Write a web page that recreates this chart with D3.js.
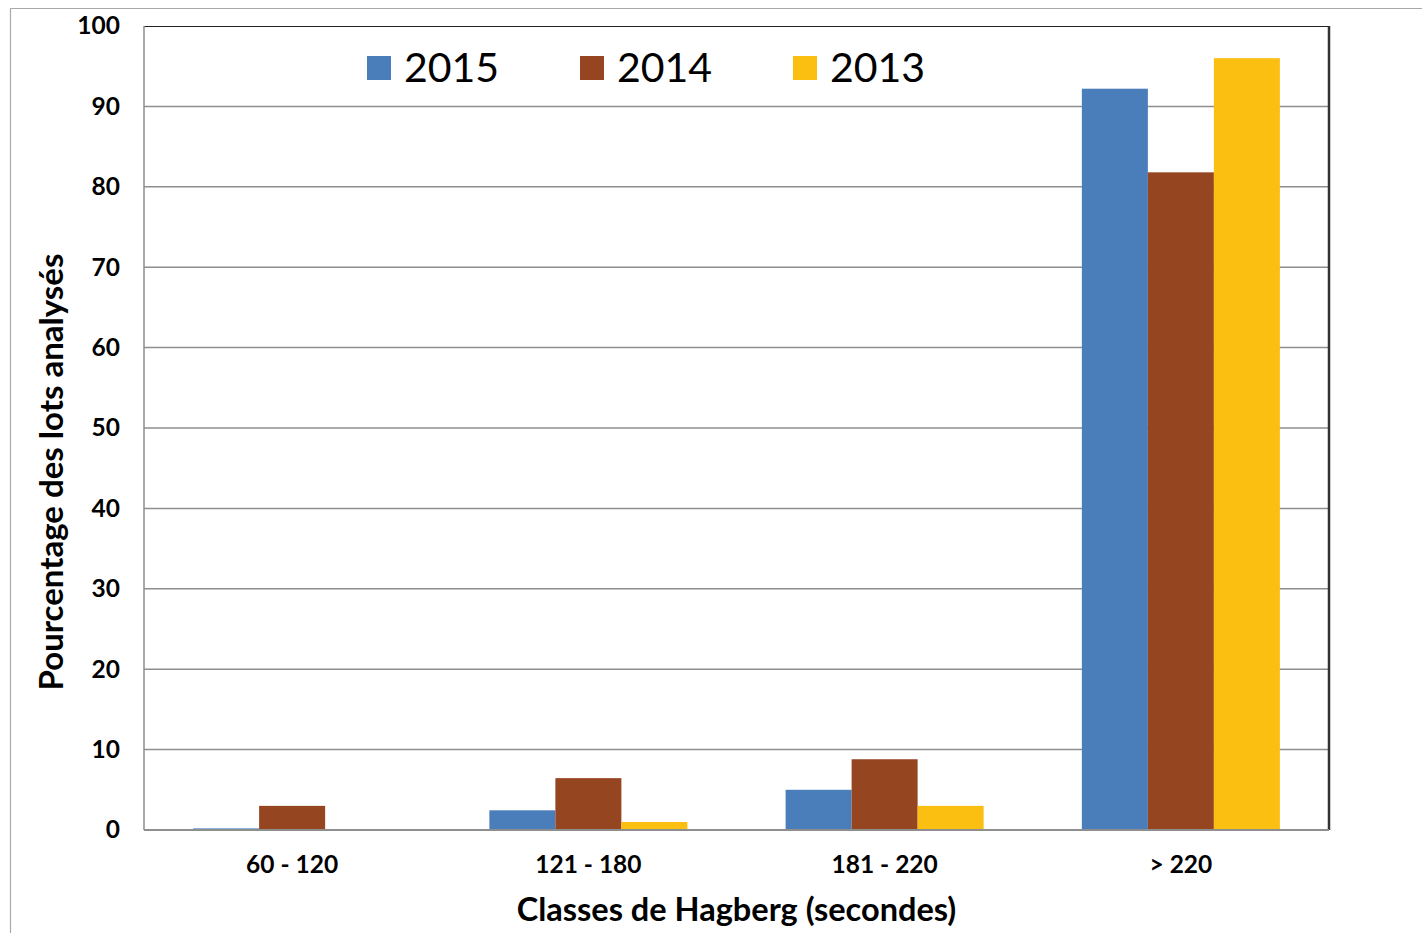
<!DOCTYPE html>
<html><head><meta charset="utf-8">
<script src="https://cdn.jsdelivr.net/npm/d3@7"></script>
<style>body{margin:0;background:#fff;} svg{display:block;}</style>
</head><body>
<svg id="c" width="1422" height="933"></svg>
<script>
const categories = ["60 - 120", "121 - 180", "181 - 220", "> 220"];
const seriesNames = ["2015", "2014", "2013"];
const values2015 = [0.2, 2.45, 5.0, 92.2];
const values2014 = [3.0, 6.45, 8.8, 81.8];
const values2013 = [0.0, 1.0, 3.0, 96.0];
const yTicks = [0, 10, 20, 30, 40, 50, 60, 70, 80, 90, 100];
const colors = ["#4a7ebb", "#964521", "#fbbf12"];

const seriesValues = [values2015, values2014, values2013];
const svg = d3.select("#c");
const FONT = "Lato, 'Open Sans', sans-serif";

// outer frame
svg.append("line").attr("x1",10).attr("x2",1422).attr("y1",8.5).attr("y2",8.5).attr("stroke","#aaa").attr("stroke-width",1.2);
svg.append("line").attr("x1",10.5).attr("x2",10.5).attr("y1",8).attr("y2",933).attr("stroke","#aaa").attr("stroke-width",1.2);

const L = 144, R = 1329, T = 26, B = 830;
const x0 = d3.scaleBand().domain(categories).range([L, R]).padding(0);
const x1 = d3.scaleBand().domain(seriesNames).range([0, x0.bandwidth()]).paddingInner(0).paddingOuter(0.744);
const y = d3.scaleLinear().domain([0, 100]).range([B, T]);

// gridlines
svg.append("g").selectAll("line").data(yTicks.filter(d => d > 0 && d < 100)).join("line")
  .attr("x1", L).attr("x2", R).attr("y1", d => y(d)).attr("y2", d => y(d))
  .attr("stroke", "#8e8e8e").attr("stroke-width", 1.5);

// bars
const data = [];
categories.forEach((c, i) => seriesNames.forEach((s, j) => data.push({c, s, j, v: seriesValues[j][i]})));
svg.append("g").selectAll("rect").data(data).join("rect")
  .attr("x", d => x0(d.c) + x1(d.s))
  .attr("y", d => y(d.v))
  .attr("width", x1.bandwidth())
  .attr("height", d => B - y(d.v))
  .attr("fill", d => colors[d.j]);

// plot frame
svg.append("line").attr("x1",L).attr("x2",R).attr("y1",T+0.5).attr("y2",T+0.5).attr("stroke","#222").attr("stroke-width",1.2);
svg.append("line").attr("x1",R).attr("x2",R).attr("y1",T).attr("y2",B).attr("stroke","#333").attr("stroke-width",2.5);
svg.append("line").attr("x1",L).attr("x2",L).attr("y1",T).attr("y2",B).attr("stroke","#8e8e8e").attr("stroke-width",1.5);
svg.append("line").attr("x1",L).attr("x2",R).attr("y1",B).attr("y2",B).attr("stroke","#8e8e8e").attr("stroke-width",2);

// y axis labels
const yAxis = d3.axisLeft(y).tickValues(yTicks).tickSize(0).tickPadding(24).tickFormat(d3.format("d"));
const gy = svg.append("g").attr("transform", `translate(${L},0)`).call(yAxis);
gy.select(".domain").remove();
gy.selectAll("text").attr("font-family", FONT).attr("font-weight", "bold").attr("font-size", 24.5).attr("fill", "#000");

// x axis labels
const xAxis = d3.axisBottom(x0).tickSize(0).tickPadding(26);
const gx = svg.append("g").attr("transform", `translate(0,${B})`).call(xAxis);
gx.select(".domain").remove();
gx.selectAll("text").attr("font-family", FONT).attr("font-weight", "bold").attr("font-size", 24.5).attr("fill", "#000");

// axis titles
svg.append("text").attr("x", (L + R) / 2).attr("y", 921).attr("text-anchor", "middle")
  .attr("font-family", FONT).attr("font-weight", "bold").attr("font-size", 32.5).attr("fill", "#000")
  .text("Classes de Hagberg (secondes)");
svg.append("text").attr("transform", `translate(63,${(T + B) / 2 + 44}) rotate(-90)`).attr("text-anchor", "middle")
  .attr("font-family", FONT).attr("font-weight", "bold").attr("font-size", 33).attr("fill", "#000")
  .text("Pourcentage des lots analysés");

// legend
const legendX = [367, 580, 793];
const lg = svg.append("g").selectAll("g").data(seriesNames).join("g")
  .attr("transform", (d, i) => `translate(${legendX[i]},56)`);
lg.append("rect").attr("width", 24).attr("height", 24).attr("fill", (d, i) => colors[i]);
lg.append("text").attr("x", 37).attr("y", 26).attr("font-family", FONT).attr("font-size", 41).attr("fill", "#000").text(d => d);
</script>
</body></html>
